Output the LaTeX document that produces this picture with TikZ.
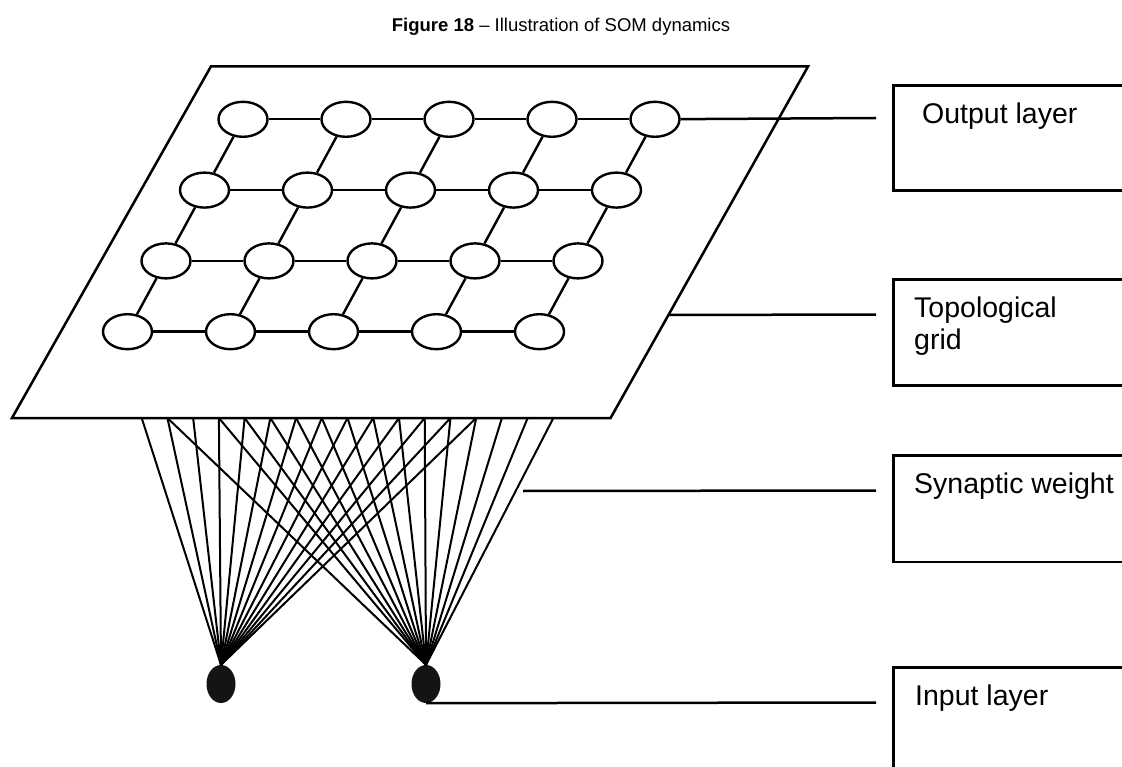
\documentclass[tikz,border=0pt]{standalone}
\usepackage{fontspec}
\setmainfont{Liberation Sans}
\usetikzlibrary{shapes.geometric}

\tikzset{
  neuron/.style={draw, ellipse, fill=white, line width=2.4pt, minimum width=49pt, minimum height=35pt, inner sep=0pt},
  inputdot/.style={ellipse, fill=black!92, minimum width=29pt, minimum height=38pt, inner sep=0pt},
  layerbox/.style={draw, rectangle, line width=2.7pt, anchor=north west, minimum width=260pt},
  boxlabel/.style={anchor=north west, align=left, inner sep=0pt, font=\fontsize{28.5}{32.6}\selectfont},
  weight/.style={line width=2pt},
  pointer/.style={line width=2.5pt}
}

\begin{document}
\begin{tikzpicture}[x=1pt, y=-1pt]
\useasboundingbox (0,0) rectangle (1122,767);
\clip (0,0) rectangle (1122,767);
\node[anchor=base, font=\fontsize{18.5}{22}\selectfont] (title) at (561,31.5) {\textbf{Figure 18} – Illustration of SOM dynamics};
% the sheet
\draw[line width=2.5pt] (210.9,66.5) -- (808,66.5) -- (610.6,418) -- (12,418) -- cycle;
% output neurons
\foreach \r in {0,...,3}
  \foreach \c in {0,...,4}
    \node[neuron] (n-\r-\c) at ({243-38.5*\r+103*\c},{119.3+70.8*\r}) {};
\foreach \r in {0,...,3}
  \foreach \c [count=\d] in {0,...,3}
    \draw[line width=2.4pt] (n-\r-\c) -- (n-\r-\d);
\foreach \r [count=\s] in {0,1,2}
  \foreach \c in {0,...,4}
    \draw[line width=2.4pt] (n-\r-\c) -- (n-\s-\c);
% inputs and weights
\node[inputdot] (in1) at (221,684) {};
\node[inputdot] (in2) at (426,684) {};
\foreach \i in {1,...,17}
  \coordinate (p\i) at ({141.7+25.73*(\i-1)},418);
\foreach \i in {1,...,14}
  \draw[weight] (p\i) -- (in1.north);
\foreach \i in {2,4,5,6,7,8,9,10,11,12,13,14,15,16,17}
  \draw[weight] (p\i) -- (in2.north);
% boxes
\node[layerbox, minimum height=105pt] (outbox) at (892,84) {};
\node[layerbox, minimum height=106pt] (gridbox) at (892,278) {};
\node[layerbox, minimum height=106.7pt] (wbox) at (892,454) {};
\node[layerbox, minimum height=106pt] (inbox) at (892,666) {};
\node[boxlabel] (outlabel) at ([xshift=30pt, yshift=-18.5pt]outbox.north west) {Output layer};
\node[boxlabel] (gridlabel) at ([xshift=22pt, yshift=-18.5pt]gridbox.north west) {Topological\\grid};
\node[boxlabel] (wlabel) at ([xshift=22pt, yshift=-18.5pt]wbox.north west) {Synaptic weight};
\node[boxlabel] (inlabel) at ([xshift=23pt, yshift=-18.5pt]inbox.north west) {Input layer};
% pointers
\coordinate (outend) at (876,118);
\coordinate (gridstart) at (668.4,315);
\coordinate (gridend) at (876,314.5);
\coordinate (wstart) at (523,491);
\coordinate (wend) at (876,490.5);
\coordinate (inend) at (876,702.5);
\draw[pointer] (n-0-4) -- (outend);
\draw[pointer] (gridstart) -- (gridend);
\draw[pointer] (wstart) -- (wend);
\draw[pointer] (in2.south) -- (inend);
\end{tikzpicture}
\end{document}
